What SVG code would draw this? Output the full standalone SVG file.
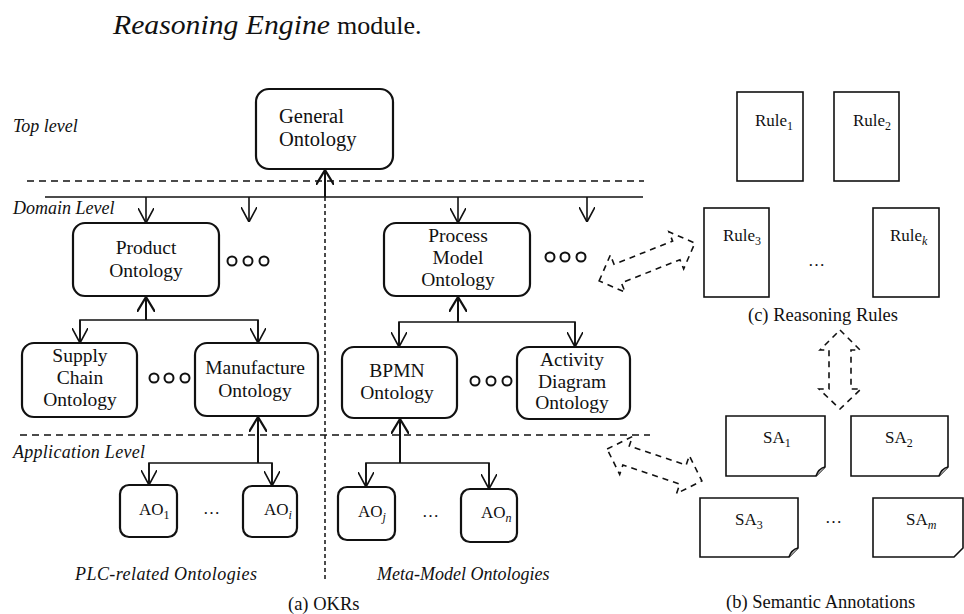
<svg xmlns="http://www.w3.org/2000/svg" width="964" height="614" viewBox="0 0 964 614">
<style>
  .bg{fill:#fff}
  .box{fill:#fff;stroke:#111;stroke-width:2.2}
  .doc{fill:#fff;stroke:#111;stroke-width:1.6}
  .t{font-family:"Liberation Serif","Times New Roman",serif;fill:#111}
  .lbl{font-size:19.5px;text-anchor:middle}
  .it{font-style:italic;font-size:18px}
  .cap{font-size:18.5px}
  .m{font-size:17px}
  .sub{font-size:12px}
  .con{fill:none;stroke:#111;stroke-width:1.6}
  .up{fill:none;stroke:#111;stroke-width:2}
  .dash{fill:none;stroke:#111;stroke-width:1.5;stroke-dasharray:7,5}
  .vdash{fill:none;stroke:#111;stroke-width:1.5;stroke-dasharray:4,3}
  .barrow{fill:none;stroke:#111;stroke-width:1.6;stroke-dasharray:6,5}
  .dots{fill:none;stroke:#111;stroke-width:2}
</style>
<defs>
  <marker id="ah" viewBox="0 0 15 16" refX="15" refY="8" markerWidth="15" markerHeight="16" markerUnits="userSpaceOnUse" orient="auto">
    <path d="M0,0 L15,8 L0,16" fill="none" stroke="#111" stroke-width="1.6"/>
  </marker>
  <marker id="ahb" viewBox="0 0 15 18" refX="15" refY="9" markerWidth="15" markerHeight="18" markerUnits="userSpaceOnUse" orient="auto">
    <path d="M0,0 L15,9 L0,18" fill="none" stroke="#111" stroke-width="2.2"/>
  </marker>
</defs>
<rect class="bg" width="964" height="614"/>

<text class="t" x="113" y="34" font-size="27" font-style="italic" textLength="217" lengthAdjust="spacingAndGlyphs">Reasoning Engine</text>
<text class="t" x="337" y="34" font-size="26">module.</text>

<!-- level labels -->
<text class="t it" x="13" y="132">Top level</text>
<text class="t it" x="13" y="214">Domain Level</text>
<text class="t it" x="13" y="458" textLength="132">Application Level</text>
<text class="t it" x="75" y="580" textLength="182">PLC-related Ontologies</text>
<text class="t it" x="377" y="580">Meta-Model Ontologies</text>
<text class="t cap" x="288" y="610">(a) OKRs</text>
<text class="t cap" x="748" y="321">(c) Reasoning Rules</text>
<text class="t cap" x="726" y="608">(b) Semantic Annotations</text>

<!-- connectors -->
<g id="connectors">
  <line class="dash" x1="27" y1="181" x2="644" y2="181"/>
  <line class="dash" x1="20" y1="435" x2="650" y2="435"/>
  <line class="vdash" x1="325" y1="197" x2="325" y2="580"/>
  <line class="con" x1="45" y1="197" x2="643" y2="197"/>
  <line class="up" x1="325" y1="197" x2="325" y2="170" marker-end="url(#ahb)"/>
  <line class="con" x1="146" y1="197" x2="146" y2="223" marker-end="url(#ah)"/>
  <line class="con" x1="249" y1="197" x2="249" y2="222" marker-end="url(#ah)"/>
  <line class="con" x1="458" y1="197" x2="458" y2="223" marker-end="url(#ah)"/>
  <line class="con" x1="587" y1="197" x2="587" y2="222" marker-end="url(#ah)"/>

  <line class="up" x1="146" y1="320" x2="146" y2="297" marker-end="url(#ahb)"/>
  <polyline class="con" points="80,343 80,320 258,320 258,343"/>
  <line class="con" x1="80" y1="320" x2="80" y2="343" marker-end="url(#ah)"/>
  <line class="con" x1="258" y1="320" x2="258" y2="343" marker-end="url(#ah)"/>

  <line class="up" x1="458" y1="322" x2="458" y2="297" marker-end="url(#ahb)"/>
  <polyline class="con" points="399,347 399,322 575,322 575,347"/>
  <line class="con" x1="399" y1="322" x2="399" y2="347" marker-end="url(#ah)"/>
  <line class="con" x1="575" y1="322" x2="575" y2="347" marker-end="url(#ah)"/>

  <line class="up" x1="258" y1="463" x2="258" y2="417" marker-end="url(#ahb)"/>
  <polyline class="con" points="149,485 149,463 272,463 272,486"/>
  <line class="con" x1="149" y1="463" x2="149" y2="485" marker-end="url(#ah)"/>
  <line class="con" x1="272" y1="463" x2="272" y2="486" marker-end="url(#ah)"/>

  <line class="up" x1="400" y1="463" x2="400" y2="419" marker-end="url(#ahb)"/>
  <polyline class="con" points="366,487 366,463 489,463 489,489"/>
  <line class="con" x1="366" y1="463" x2="366" y2="487" marker-end="url(#ah)"/>
  <line class="con" x1="489" y1="463" x2="489" y2="489" marker-end="url(#ah)"/>

  <!-- dashed block double arrows -->
  <polygon class="barrow" transform="translate(647,262) rotate(-21.6)" points="-51.5,0 -31.5,-20 -31.5,-10 31.5,-10 31.5,-20 51.5,0 31.5,20 31.5,10 -31.5,10 -31.5,20"/>
  <polygon class="barrow" points="840,330 860,350 851,350 851,389 861,389 840,409 819,389 829,389 829,350 820,350"/>
  <polygon class="barrow" transform="translate(654.5,465) rotate(18.6)" points="-50,0 -30,-20 -30,-10 30,-10 30,-20 50,0 30,20 30,10 -30,10 -30,20"/>
</g>

<!-- ontology nodes -->
<g id="general">
  <rect class="box" x="256" y="89" width="137" height="80" rx="13"/>
  <text class="t" x="279" y="123" font-size="20.5">General</text>
  <text class="t" x="279" y="146" font-size="20.5">Ontology</text>
</g>
<g id="product">
  <rect class="box" x="73" y="223" width="146" height="73" rx="12"/>
  <text class="t lbl" x="146" y="254">Product</text>
  <text class="t lbl" x="146" y="277">Ontology</text>
</g>
<g id="dots1"><circle class="dots" cx="232" cy="261" r="4.5"/><circle class="dots" cx="248" cy="261" r="4.5"/><circle class="dots" cx="264" cy="261" r="4.5"/></g>
<g id="process">
  <rect class="box" x="384" y="223" width="146" height="73" rx="12"/>
  <text class="t lbl" x="458" y="242">Process</text>
  <text class="t lbl" x="458" y="264">Model</text>
  <text class="t lbl" x="458" y="286">Ontology</text>
</g>
<g id="dots2"><circle class="dots" cx="550" cy="257" r="4.5"/><circle class="dots" cx="565" cy="257" r="4.5"/><circle class="dots" cx="581" cy="257" r="4.5"/></g>
<g id="supply">
  <rect class="box" x="22" y="343" width="115" height="74" rx="12"/>
  <text class="t lbl" x="80" y="362">Supply</text>
  <text class="t lbl" x="80" y="384">Chain</text>
  <text class="t lbl" x="80" y="406">Ontology</text>
</g>
<g id="dots3"><circle class="dots" cx="154" cy="378" r="4.5"/><circle class="dots" cx="169" cy="378" r="4.5"/><circle class="dots" cx="185" cy="378" r="4.5"/></g>
<g id="manufacture">
  <rect class="box" x="195" y="343" width="123" height="73" rx="12"/>
  <text class="t lbl" x="255" y="374">Manufacture</text>
  <text class="t lbl" x="255" y="397">Ontology</text>
</g>
<g id="bpmn">
  <rect class="box" x="342" y="347" width="115" height="71" rx="12"/>
  <text class="t lbl" x="397" y="377">BPMN</text>
  <text class="t lbl" x="397" y="399">Ontology</text>
</g>
<g id="dots4"><circle class="dots" cx="475" cy="381" r="4.5"/><circle class="dots" cx="491" cy="381" r="4.5"/><circle class="dots" cx="507" cy="381" r="4.5"/></g>
<g id="activity">
  <rect class="box" x="517" y="347" width="113" height="72" rx="12"/>
  <text class="t lbl" x="572" y="366">Activity</text>
  <text class="t lbl" x="572" y="388">Diagram</text>
  <text class="t lbl" x="572" y="409">Ontology</text>
</g>

<g id="ao1">
  <rect class="box" x="120" y="485" width="57" height="52" rx="9"/>
  <text class="t m" x="139" y="515">AO<tspan class="sub" dy="4">1</tspan></text>
</g>
<text class="t m" x="203" y="514">…</text>
<g id="aoi">
  <rect class="box" x="243" y="486" width="54" height="51" rx="9"/>
  <text class="t m" x="264" y="515">AO<tspan class="sub" dy="4" font-style="italic">i</tspan></text>
</g>
<g id="aoj">
  <rect class="box" x="338" y="487" width="57" height="53" rx="9"/>
  <text class="t m" x="358" y="517">AO<tspan class="sub" dy="4" font-style="italic">j</tspan></text>
</g>
<text class="t m" x="422" y="517">…</text>
<g id="aon">
  <rect class="box" x="461" y="489" width="56" height="53" rx="9"/>
  <text class="t m" x="481" y="518">AO<tspan class="sub" dy="4" font-style="italic">n</tspan></text>
</g>

<!-- rules -->
<g id="rule1">
  <rect class="doc" x="737" y="92" width="66" height="89"/>
  <text class="t m" x="755" y="126">Rule<tspan class="sub" dy="4">1</tspan></text>
</g>
<g id="rule2">
  <rect class="doc" x="834" y="92" width="65" height="89"/>
  <text class="t m" x="853" y="126">Rule<tspan class="sub" dy="4">2</tspan></text>
</g>
<g id="rule3">
  <rect class="doc" x="704" y="208" width="65" height="89"/>
  <text class="t m" x="723" y="241">Rule<tspan class="sub" dy="4">3</tspan></text>
</g>
<text class="t m" x="808" y="266">…</text>
<g id="rulek">
  <rect class="doc" x="873" y="208" width="66" height="89"/>
  <text class="t m" x="890" y="241">Rule<tspan class="sub" dy="4" font-style="italic">k</tspan></text>
</g>

<!-- semantic annotations -->
<g id="sa1">
  <path class="doc" d="M726,416 H825 V467 L816,476 H726 Z"/>
  <path class="doc" d="M825,467 C821,468 818,470 816,476"/>
  <text class="t m" x="763" y="443">SA<tspan class="sub" dy="4">1</tspan></text>
</g>
<g id="sa2">
  <path class="doc" d="M851,416 H948 V467 L939,476 H851 Z"/>
  <path class="doc" d="M948,467 C944,468 941,470 939,476"/>
  <text class="t m" x="885" y="443">SA<tspan class="sub" dy="4">2</tspan></text>
</g>
<g id="sa3">
  <path class="doc" d="M700,498 H798 V548 L789,557 H700 Z"/>
  <path class="doc" d="M798,548 C794,549 791,551 789,557"/>
  <text class="t m" x="735" y="525">SA<tspan class="sub" dy="4">3</tspan></text>
</g>
<text class="t m" x="825" y="523">…</text>
<g id="sam">
  <path class="doc" d="M873,498 H963 V548 L954,557 H873 Z"/>
  <text class="t m" x="906" y="525">SA<tspan class="sub" dy="4" font-style="italic">m</tspan></text>
</g>
</svg>
